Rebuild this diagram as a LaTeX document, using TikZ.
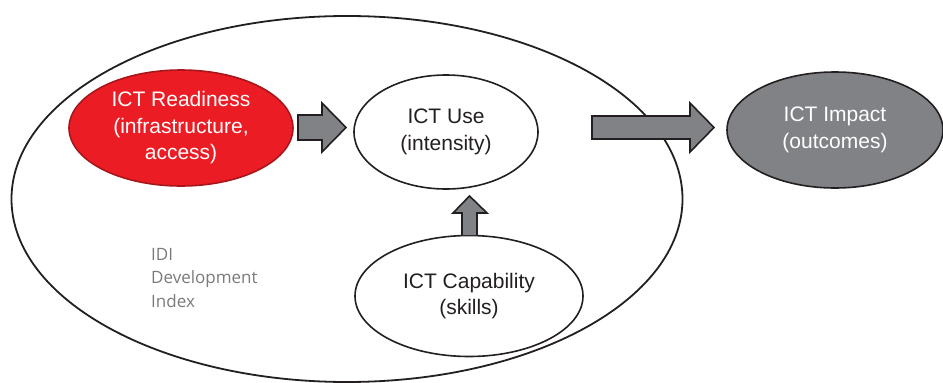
\documentclass[tikz,border=0pt]{standalone}
\usepackage{fontspec}
\setmainfont{Liberation Sans}
\newfontfamily\idifont{Open Sans}
\usetikzlibrary{shapes.geometric}
\definecolor{redfill}{HTML}{EC1C24}
\definecolor{redline}{HTML}{A8161C}
\definecolor{grayfill}{HTML}{808285}
\definecolor{ink}{HTML}{231F20}
\definecolor{idigray}{HTML}{7A7A7A}
\tikzset{
  bubble/.style={ellipse, draw=ink, line width=1.6pt, inner sep=0pt,
    align=center, font=\fontsize{21}{26.5}\selectfont, text=ink},
  blockarrow/.style={draw=ink, fill=grayfill, line width=1.6pt, line join=miter},
}
\begin{document}
\begin{tikzpicture}[x=1pt,y=-1pt]
\useasboundingbox (0,0) rectangle (943,383);
% outer IDI ellipse
\node[ellipse, draw=ink, line width=1.8pt, minimum width=671, minimum height=366, inner sep=0pt] (idi) at (347,199) {};
\node[anchor=north west, align=left, text=idigray, font=\idifont\fontsize{17}{23.5}\selectfont, inner sep=0pt] (idilabel) at (151,248) {IDI\\Development\\Index};
% bubbles
\node[bubble, fill=redfill, draw=redline, text=white, minimum width=224, minimum height=116] (ready) at (181,128) {ICT Readiness\\(infrastructure,\\access)};
\node[bubble, fill=white, minimum width=184, minimum height=114] (use) at (446,132) {ICT Use\\(intensity)};
\node[bubble, fill=white, minimum width=228, minimum height=121] (cap) at (469,296) {ICT Capability\\(skills)};
\node[bubble, fill=grayfill, text=white, minimum width=216, minimum height=116] (impact) at (835,130) {ICT Impact\\(outcomes)};
% block arrows
\draw[blockarrow] (298,115) -- (322,115) -- (322,103) -- (346,127.5) -- (322,152) -- (322,140) -- (298,140) -- cycle;
\draw[blockarrow] (592,116) -- (690,116) -- (690,103) -- (714,127.5) -- (690,152) -- (690,139) -- (592,139) -- cycle;
\draw[blockarrow] (462,235) -- (462,213) -- (453,213) -- (469.5,196) -- (487,213) -- (477,213) -- (477,235);
\end{tikzpicture}
\end{document}
